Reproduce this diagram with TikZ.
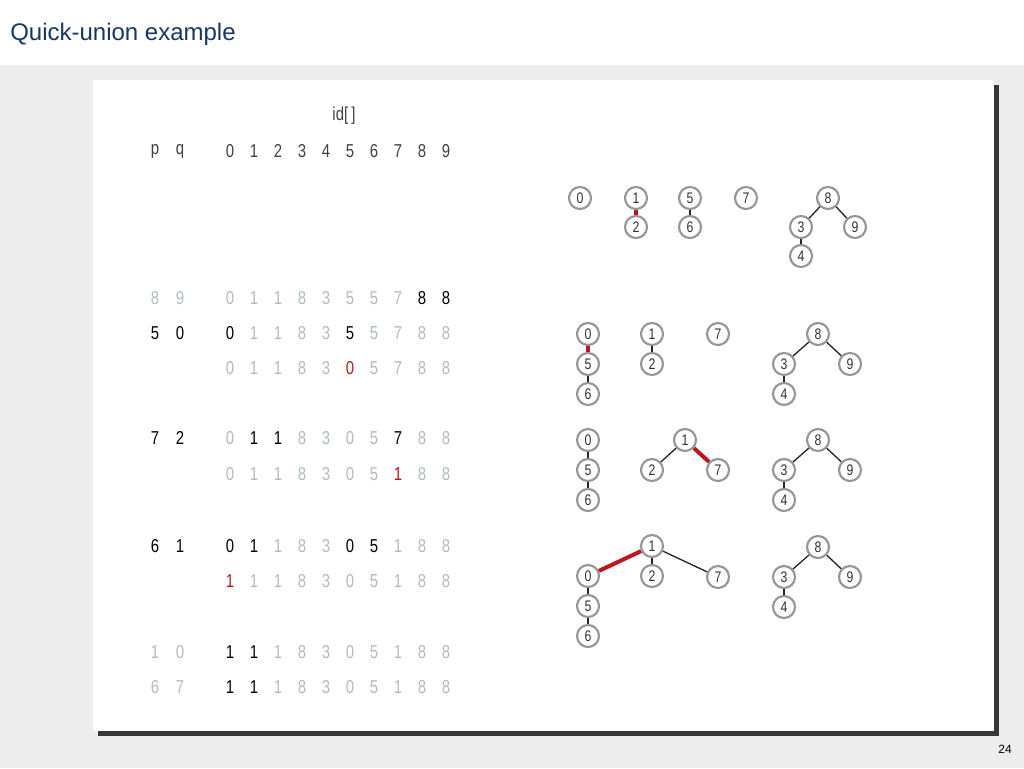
\documentclass[tikz,border=0pt]{standalone}
\usepackage{fontspec}
\setmainfont{Liberation Sans}
\newfontfamily\digitfont[FakeStretch=0.8]{Liberation Sans}
\definecolor{titleblue}{RGB}{22,55,100}
\definecolor{slidegray}{RGB}{237,237,237}
\definecolor{shadowgray}{RGB}{55,55,55}
\definecolor{fade}{RGB}{175,190,184}
\definecolor{unionred}{RGB}{185,25,30}
\definecolor{ringgray}{RGB}{150,150,150}

\begin{document}
\begin{tikzpicture}[x=0.75pt, y=-0.75pt,
          entry/.style={font=\digitfont\fontsize{14}{14}\selectfont, inner sep=0pt, text=fade},
          site/.style={circle, draw=ringgray, line width=1.6pt, fill=white, minimum size=16.5pt, inner sep=0pt,
                       font=\digitfont\fontsize{11.5}{11.5}\selectfont, text=black!80},
          link/.style={draw=black!85, line width=1pt},
          newlink/.style={draw=unionred, line width=3pt},
        ]
          \useasboundingbox (0,0) rectangle (1024,768);
          \fill[slidegray] (0,65) rectangle (1024,768);
          \fill[shadowgray] (98,85) rectangle (999,736);
          \fill[white] (93,80) rectangle (994,731);

          \node[anchor=base west, font=\fontsize{18}{18}\selectfont, text=titleblue, inner sep=0pt] (title) at (10,40) {Quick-union example};
          \node[font=\fontsize{9}{9}\selectfont, inner sep=0pt] (page) at (1005,749) {24};

          % id[] table
          \node[entry, text=black!75] (idlabel) at (344,116) {id[\,]};
          \node[entry, text=black!75] (hp) at (155,151) {p};
          \node[entry, text=black!75] (hq) at (180,151) {q};
          \foreach \v [count=\i from 0] in {0,...,9}
            \node[entry, text=black!75] (h\i) at ({230+24*\i},151) {\v};

          \node[entry] (ap) at (155,298) {8};
          \node[entry] (aq) at (180,298) {9};
          \foreach \v/\c [count=\i from 0] in {0/fade,1/fade,1/fade,8/fade,3/fade,5/fade,5/fade,7/fade,8/black,8/black}
            \node[entry, text=\c] (a\i) at ({230+24*\i},298) {\v};

          \node[entry, text=black] (bp) at (155,333) {5};
          \node[entry, text=black] (bq) at (180,333) {0};
          \foreach \v/\c [count=\i from 0] in {0/black,1/fade,1/fade,8/fade,3/fade,5/black,5/fade,7/fade,8/fade,8/fade}
            \node[entry, text=\c] (b\i) at ({230+24*\i},333) {\v};
          \foreach \v/\c [count=\i from 0] in {0/fade,1/fade,1/fade,8/fade,3/fade,0/unionred,5/fade,7/fade,8/fade,8/fade}
            \node[entry, text=\c] (c\i) at ({230+24*\i},368) {\v};

          \node[entry, text=black] (dp) at (155,438) {7};
          \node[entry, text=black] (dq) at (180,438) {2};
          \foreach \v/\c [count=\i from 0] in {0/fade,1/black,1/black,8/fade,3/fade,0/fade,5/fade,7/black,8/fade,8/fade}
            \node[entry, text=\c] (d\i) at ({230+24*\i},438) {\v};
          \foreach \v/\c [count=\i from 0] in {0/fade,1/fade,1/fade,8/fade,3/fade,0/fade,5/fade,1/unionred,8/fade,8/fade}
            \node[entry, text=\c] (e\i) at ({230+24*\i},474) {\v};

          \node[entry, text=black] (fp) at (155,546) {6};
          \node[entry, text=black] (fq) at (180,546) {1};
          \foreach \v/\c [count=\i from 0] in {0/black,1/black,1/fade,8/fade,3/fade,0/black,5/black,1/fade,8/fade,8/fade}
            \node[entry, text=\c] (f\i) at ({230+24*\i},546) {\v};
          \foreach \v/\c [count=\i from 0] in {1/unionred,1/fade,1/fade,8/fade,3/fade,0/fade,5/fade,1/fade,8/fade,8/fade}
            \node[entry, text=\c] (g\i) at ({230+24*\i},581) {\v};

          \node[entry] (hhp) at (155,652) {1};
          \node[entry] (hhq) at (180,652) {0};
          \foreach \v/\c [count=\i from 0] in {1/black,1/black,1/fade,8/fade,3/fade,0/fade,5/fade,1/fade,8/fade,8/fade}
            \node[entry, text=\c] (k\i) at ({230+24*\i},652) {\v};
          \node[entry] (mp) at (155,687) {6};
          \node[entry] (mq) at (180,687) {7};
          \foreach \v/\c [count=\i from 0] in {1/black,1/black,1/fade,8/fade,3/fade,0/fade,5/fade,1/fade,8/fade,8/fade}
            \node[entry, text=\c] (m\i) at ({230+24*\i},687) {\v};

          % forest after 8-9
          \node[site] (s0) at (580,198) {0};
          \node[site] (s1) at (636,198) {1};
          \node[site] (s2) at (636,227) {2};
          \node[site] (s5) at (690,198) {5};
          \node[site] (s6) at (690,227) {6};
          \node[site] (s7) at (746,198) {7};
          \node[site] (s8) at (828,198) {8};
          \node[site] (s3) at (801,227) {3};
          \node[site] (s9) at (855,227) {9};
          \node[site] (s4) at (801,256) {4};
          \draw[newlink] (s1) -- (s2);
          \draw[link] (s5) -- (s6);
          \draw[link] (s8) -- (s3);
          \draw[link] (s8) -- (s9);
          \draw[link] (s3) -- (s4);

          % forest after 5-0
          \node[site] (t0) at (588,334) {0};
          \node[site] (t5) at (588,364) {5};
          \node[site] (t6) at (588,394) {6};
          \node[site] (t1) at (652,334) {1};
          \node[site] (t2) at (652,364) {2};
          \node[site] (t7) at (718,334) {7};
          \node[site] (t8) at (818,334) {8};
          \node[site] (t3) at (784,364) {3};
          \node[site] (t9) at (850,364) {9};
          \node[site] (t4) at (784,394) {4};
          \draw[newlink] (t0) -- (t5);
          \draw[link] (t5) -- (t6);
          \draw[link] (t1) -- (t2);
          \draw[link] (t8) -- (t3);
          \draw[link] (t8) -- (t9);
          \draw[link] (t3) -- (t4);

          % forest after 7-2
          \node[site] (u0) at (588,440) {0};
          \node[site] (u5) at (588,470) {5};
          \node[site] (u6) at (588,500) {6};
          \node[site] (u1) at (685,440) {1};
          \node[site] (u2) at (652,470) {2};
          \node[site] (u7) at (718,470) {7};
          \node[site] (u8) at (818,440) {8};
          \node[site] (u3) at (784,470) {3};
          \node[site] (u9) at (850,470) {9};
          \node[site] (u4) at (784,500) {4};
          \draw[link] (u0) -- (u5);
          \draw[link] (u5) -- (u6);
          \draw[link] (u1) -- (u2);
          \draw[newlink] (u1) -- (u7);
          \draw[link] (u8) -- (u3);
          \draw[link] (u8) -- (u9);
          \draw[link] (u3) -- (u4);

          % forest after 6-1
          \node[site] (v1) at (652,546) {1};
          \node[site] (v0) at (588,576) {0};
          \node[site] (v2) at (652,576) {2};
          \node[site] (v7) at (718,577) {7};
          \node[site] (v5) at (588,606) {5};
          \node[site] (v6) at (588,636) {6};
          \node[site] (v8) at (818,547) {8};
          \node[site] (v3) at (784,577) {3};
          \node[site] (v9) at (850,577) {9};
          \node[site] (v4) at (784,607) {4};
          \draw[newlink] (v1) -- (v0);
          \draw[link] (v1) -- (v2);
          \draw[link] (v1) -- (v7);
          \draw[link] (v0) -- (v5);
          \draw[link] (v5) -- (v6);
          \draw[link] (v8) -- (v3);
          \draw[link] (v8) -- (v9);
          \draw[link] (v3) -- (v4);
        \end{tikzpicture}
\end{document}
